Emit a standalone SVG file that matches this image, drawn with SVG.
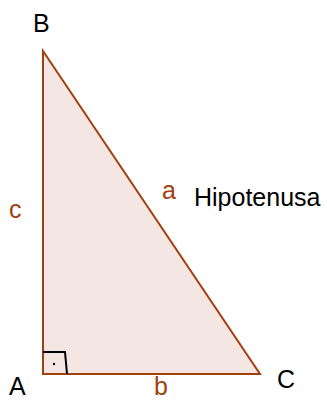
<svg xmlns="http://www.w3.org/2000/svg" width="327" height="401" viewBox="0 0 327 401">
<style>
.lbl{font-family:"Liberation Sans",Arial,sans-serif;font-size:25px;fill:#000}
.side{font-family:"Liberation Sans",Arial,sans-serif;font-size:25px;fill:#a0410d}
</style>
<rect width="327" height="401" fill="#fff"/>
<g id="triangle">
<polygon points="43,51 43,374 260,374" fill="#f4e6e2" stroke="#a0410d" stroke-width="2" stroke-linejoin="miter"/>
<polyline points="43,352 65,352 67,374" fill="none" stroke="#000" stroke-width="2"/>
<circle cx="54" cy="364" r="1.2" fill="#000"/>
</g>
<g id="connectors"></g>
<g id="vertex-B"><text class="lbl" x="33" y="32">B</text></g>
<g id="vertex-A"><text class="lbl" x="9" y="395">A</text></g>
<g id="vertex-C"><text class="lbl" x="277" y="388">C</text></g>
<g id="side-c"><text class="side" x="9" y="218">c</text></g>
<g id="side-a"><text class="side" x="162" y="199">a</text></g>
<g id="side-b"><text class="side" x="154" y="395">b</text></g>
<g id="hyp"><text class="lbl" x="194" y="206">Hipotenusa</text></g>
</svg>
